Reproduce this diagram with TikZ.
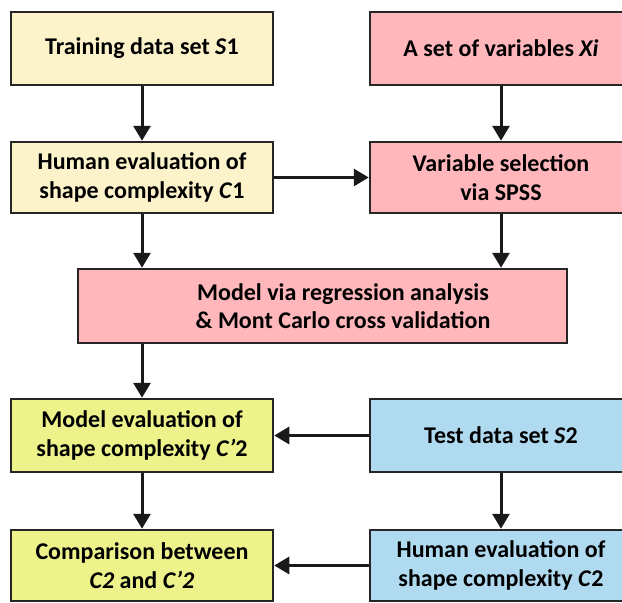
\documentclass[tikz,border=0pt]{standalone}
\usepackage{fontspec}
\setmainfont{Carlito}
\usetikzlibrary{arrows.meta}
\definecolor{creamy}{RGB}{253,243,203}
\definecolor{pinky}{RGB}{255,183,188}
\definecolor{limey}{RGB}{237,242,138}
\definecolor{skyey}{RGB}{176,218,240}

\tikzset{
  blk/.style={draw=black!85, line width=2.5pt, minimum width=262pt, minimum height=73pt,
    inner sep=0pt, align=center, font=\fontsize{24}{28.5}\selectfont\bfseries},
  txt/.style={align=center, font=\fontsize{24}{28.5}\selectfont\bfseries},
  flow/.style={-{Triangle[length=15pt,width=17pt]}, line width=3pt, black!90},
}

\begin{document}
\begin{tikzpicture}[x=1pt,y=-1pt]
        \def\lx{142}
        \def\rx{501}
        \useasboundingbox (0,0) rectangle (622,603);
        \clip (0,0) rectangle (622,603);

        % Inputs
        \node[blk, fill=creamy] (train) at (\lx,48.5) {Training data set \textit{S}1};
        \node[blk, fill=pinky] (vars) at (\rx,48.5) {A set of variables \textit{Xi}};

        % Second row
        \node[blk, fill=creamy, minimum height=71pt] (humone) at (\lx,177.5) {Human evaluation of\\shape complexity \textit{C}1};
        \node[blk, fill=pinky, minimum height=71pt] (select) at (\rx,177.5) {Variable selection\\via SPSS};

        % Model
        \node[blk, fill=pinky, minimum width=489pt, minimum height=74pt] (model) at (322.5,306) {};
        \node[txt] (modeltxt) at (343,306) {Model via regression analysis\\\& Mont Carlo cross validation};

        % Test part
        \node[blk, fill=limey] (modev) at (\lx,435.5) {Model evaluation of\\shape complexity \textit{C’}2};
        \node[blk, fill=skyey] (test) at (\rx,435.5) {Test data set \textit{S}2};
        \node[blk, fill=limey, minimum height=71pt] (compare) at (\lx,565.5) {Comparison between\\\textit{C2} and \textit{C’2}};
        \node[blk, fill=skyey, minimum height=71pt] (humtwo) at (\rx,565.5) {Human evaluation of\\shape complexity \textit{C}2};

        % Arrows
        \draw[flow] (train) -- (humone);
        \draw[flow] (vars) -- (select);
        \draw[flow] (humone) -- (select);
        \draw[flow] (humone.south) -- (humone.south |- model.north);
        \draw[flow] (select.south) -- (select.south |- model.north);
        \draw[flow] (modev.north |- model.south) -- (modev.north);
        \draw[flow] (modev) -- (compare);
        \draw[flow] (test) -- (modev);
        \draw[flow] (test) -- (humtwo);
        \draw[flow] (humtwo) -- (compare);
    \end{tikzpicture}
\end{document}
